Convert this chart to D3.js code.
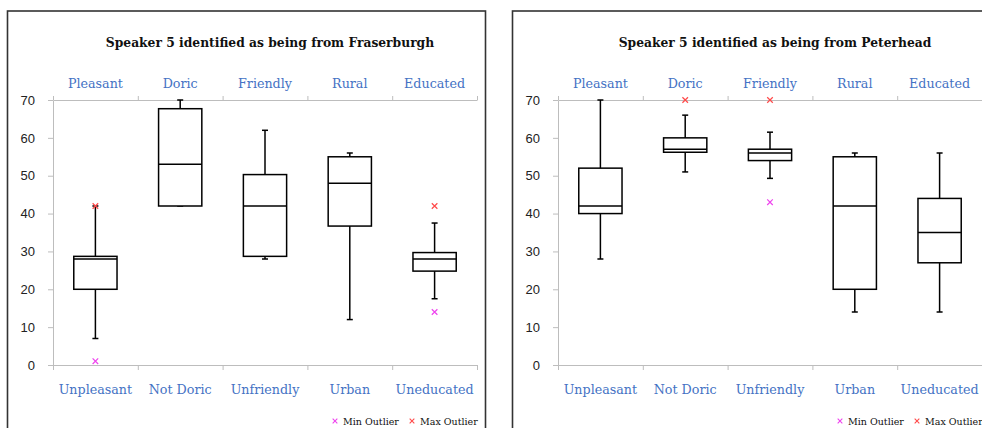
<!DOCTYPE html>
<html>
<head>
<meta charset="utf-8">
<script src="https://cdn.jsdelivr.net/npm/d3@7"></script>
<style>
  body { margin: 0; background: #fff; }
  .cat { font-family: "DejaVu Serif", serif; font-size: 12.7px; fill: #4472c4; }
  .ttl { font-family: "DejaVu Serif", serif; font-size: 12.3px; font-weight: bold; fill: #111; }
  .leg { font-family: "DejaVu Serif", serif; font-size: 9.5px; fill: #111; }
</style>
</head>
<body>
<script>
// Step 1: the data
//= ================================
var topLabels = ["Pleasant", "Doric", "Friendly", "Rural", "Educated"];
var bottomLabels = ["Unpleasant", "Not Doric", "Unfriendly", "Urban", "Uneducated"];
var yTicks = [0, 10, 20, 30, 40, 50, 60, 70];

var fraserLow  = [7, 42, 28, 12, 17.5];
var fraserQ1   = [20, 42, 28.7, 36.7, 24.8];
var fraserMed  = [28, 53, 42, 48, 28];
var fraserQ3   = [28.7, 67.7, 50.3, 55, 29.7];
var fraserHigh = [42, 70, 62, 56, 37.5];
var fraserMinOut = [1, null, null, null, 14];
var fraserMaxOut = [42, null, null, null, 42];

var peterLow  = [28, 51, 49.3, 14, 14];
var peterQ1   = [40, 56.2, 54, 20, 27];
var peterMed  = [42, 57, 56, 42, 35];
var peterQ3   = [52, 60, 57, 55, 44];
var peterHigh = [70, 66, 61.5, 56, 56];
var peterMinOut = [null, null, 43, null, null];
var peterMaxOut = [null, 70, 70, null, null];

var svg = d3.select("body")
    .append("svg")
    .attr("width", 982)
    .attr("height", 428);

function drawPanel(dx, title, low, q1, med, q3, high, minOut, maxOut) {
    var g = svg.append("g").attr("transform", "translate(" + dx + ",0)");

    // frame
    g.append("rect")
        .attr("x", 7.5).attr("y", 11)
        .attr("width", 478).attr("height", 440)
        .attr("fill", "none")
        .attr("stroke", "#333")
        .attr("stroke-width", 1.6);

    g.append("text").attr("class", "ttl")
        .attr("x", 270).attr("y", 47)
        .attr("text-anchor", "middle")
        .text(title);

    var x = d3.scaleBand()
        .domain(d3.range(topLabels.length))
        .range([53, 477]);
    var xb = d3.scaleLinear().domain([0, topLabels.length]).range([53, 477]);
    var y = d3.scaleLinear().domain([0, 70]).range([365, 100]);

    // y axis
    var ya = g.append("g")
        .attr("transform", "translate(53,0)")
        .call(d3.axisLeft(y).tickValues(yTicks).tickSize(5).tickPadding(13).tickSizeOuter(0));
    ya.selectAll("line, path").attr("stroke", "#bdbdbd");
    ya.selectAll("text")
        .attr("font-family", "Liberation Sans, Arial, sans-serif")
        .attr("font-size", 13)
        .attr("fill", "#222");

    // top and bottom category axes, ticks at the band edges
    g.append("g")
        .attr("transform", "translate(0," + y(70) + ")")
        .call(d3.axisTop(xb).tickValues(d3.range(topLabels.length + 1)).tickFormat("").tickSize(4).tickSizeOuter(0));
    g.append("g")
        .attr("transform", "translate(0," + y(0) + ")")
        .call(d3.axisBottom(xb).tickValues(d3.range(topLabels.length + 1)).tickFormat("").tickSize(5).tickSizeOuter(0));
    g.selectAll(".domain, .tick line").attr("stroke", "#bdbdbd");

    g.selectAll(".toplab")
        .data(topLabels)
        .enter().append("text")
        .attr("class", "cat")
        .attr("x", function(d, i) { return x(i) + x.bandwidth() / 2; })
        .attr("y", 87.5)
        .attr("text-anchor", "middle")
        .text(function(d) { return d; });
    g.selectAll(".botlab")
        .data(bottomLabels)
        .enter().append("text")
        .attr("class", "cat")
        .attr("x", function(d, i) { return x(i) + x.bandwidth() / 2; })
        .attr("y", 393.5)
        .attr("text-anchor", "middle")
        .text(function(d) { return d; });

    var boxes = topLabels.map(function(d, i) {
        return {i: i, low: low[i], q1: q1[i], med: med[i], q3: q3[i], high: high[i]};
    });
    var bw = x.bandwidth() * 0.51;
    var cw = 6;
    var cx = function(d) { return x(d.i) + x.bandwidth() / 2; };

    var b = g.append("g").selectAll("g")
        .data(boxes)
        .enter().append("g")
        .attr("stroke", "#000")
        .attr("stroke-width", 1.5);

    // whiskers
    b.append("line")
        .attr("x1", cx).attr("x2", cx)
        .attr("y1", function(d) { return y(d.high); })
        .attr("y2", function(d) { return y(d.low); });
    b.append("line")
        .attr("x1", function(d) { return cx(d) - cw / 2; })
        .attr("x2", function(d) { return cx(d) + cw / 2; })
        .attr("y1", function(d) { return y(d.high); })
        .attr("y2", function(d) { return y(d.high); });
    b.append("line")
        .attr("x1", function(d) { return cx(d) - cw / 2; })
        .attr("x2", function(d) { return cx(d) + cw / 2; })
        .attr("y1", function(d) { return y(d.low); })
        .attr("y2", function(d) { return y(d.low); });
    // box
    b.append("rect")
        .attr("x", function(d) { return cx(d) - bw / 2; })
        .attr("width", bw)
        .attr("y", function(d) { return y(d.q3); })
        .attr("height", function(d) { return y(d.q1) - y(d.q3); })
        .attr("fill", "#fff");
    b.append("line")
        .attr("x1", function(d) { return cx(d) - bw / 2; })
        .attr("x2", function(d) { return cx(d) + bw / 2; })
        .attr("y1", function(d) { return y(d.med); })
        .attr("y2", function(d) { return y(d.med); });

    // outliers
    var marker = d3.symbol().type(d3.symbolTimes).size(22);
    function outliers(vals, color) {
        var pts = vals.map(function(v, i) { return {i: i, v: v}; })
            .filter(function(d) { return d.v !== null; });
        g.append("g").selectAll("path")
            .data(pts)
            .enter().append("path")
            .attr("d", marker)
            .attr("transform", function(d) { return "translate(" + cx(d) + "," + y(d.v) + ")"; })
            .attr("fill", "none")
            .attr("stroke", color)
            .attr("stroke-width", 1.2);
    }
    outliers(minOut, "#ee44ee");
    outliers(maxOut, "#ff4a4a");

    // legend
    var legend = [{label: "Min Outlier", color: "#ee44ee", x: 335}, {label: "Max Outlier", color: "#ff4a4a", x: 412}];
    var lg = g.append("g").selectAll("g")
        .data(legend)
        .enter().append("g")
        .attr("transform", function(d) { return "translate(" + d.x + ",421)"; });
    lg.append("path")
        .attr("d", d3.symbol().type(d3.symbolTimes).size(16))
        .attr("fill", "none")
        .attr("stroke", function(d) { return d.color; })
        .attr("stroke-width", 1.1);
    lg.append("text").attr("class", "leg")
        .attr("x", 8).attr("y", 3.5)
        .text(function(d) { return d.label; });
}

drawPanel(0, "Speaker 5 identified as being from Fraserburgh",
    fraserLow, fraserQ1, fraserMed, fraserQ3, fraserHigh, fraserMinOut, fraserMaxOut);
drawPanel(505, "Speaker 5 identified as being from Peterhead",
    peterLow, peterQ1, peterMed, peterQ3, peterHigh, peterMinOut, peterMaxOut);
</script>
</body>
</html>
